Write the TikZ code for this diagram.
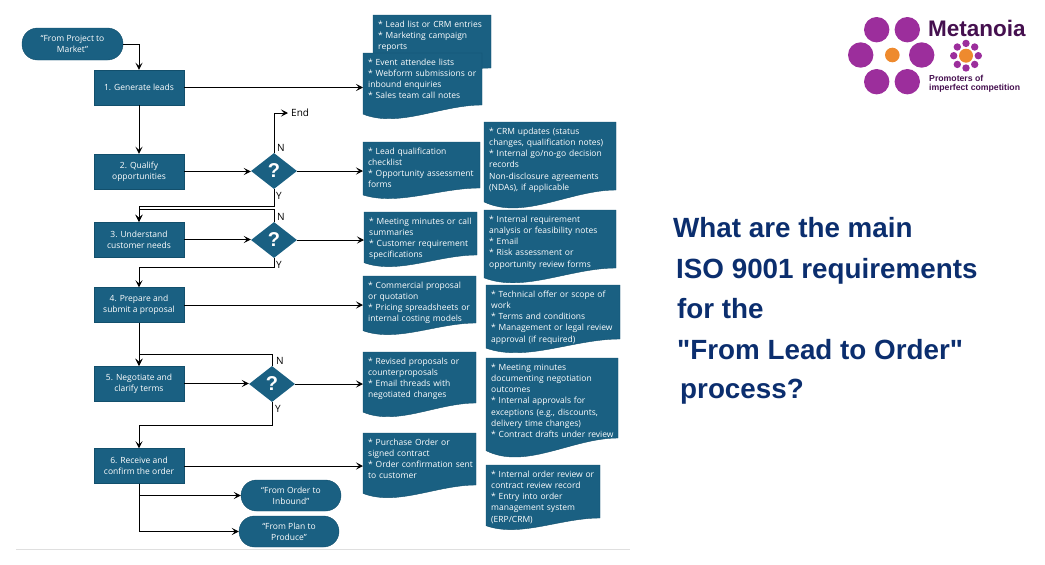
\documentclass[tikz,border=0pt]{standalone}
\usepackage{fontspec}
\setmainfont{Open Sans}
\newfontfamily\titlefont{Liberation Sans}
\usetikzlibrary{arrows.meta,calc,shapes.geometric}
\definecolor{flowblue}{HTML}{1A6082}
\definecolor{flowedge}{HTML}{124F6C}
\definecolor{navytext}{HTML}{0B2E6E}
\definecolor{logopurple}{HTML}{9C2E9C}
\definecolor{logoorange}{HTML}{EE8A2E}
\definecolor{logotext}{HTML}{45104F}
\newcommand{\boxfont}{\fontsize{8.5}{11.2}\selectfont}
\newcommand{\docnode}[7]{
  \filldraw[fill=flowblue,draw=flowedge,line width=.4] (#2,#3) -- (#2+#4,#3) -- (#2+#4,#3+#5) .. controls (#2+.65*#4,#3+#5) and (#2+.3*#4,#3+#5+1.8*#6) .. (#2,#3+#5+.7*#6) -- cycle;
  \node[docbox={#4}{#5}] (#1) at (#2,#3) {#7};
}
\begin{document}
\begin{tikzpicture}
  [x=1pt,y=-1pt,
  stepbox/.style={rectangle,fill=flowblue,draw=flowedge,line width=.4,minimum width=90,minimum height=35,align=center,text=white,font=\boxfont,inner sep=1},
  oval/.style={rectangle,rounded corners=15.5,fill=flowblue,draw=flowedge,line width=.4,minimum width=100,minimum height=31,align=center,text=white,font=\boxfont,inner sep=1},
  query/.style={diamond,shape aspect=1.27,fill=flowblue,minimum width=46,minimum height=36,inner sep=0,text=white,font=\titlefont\bfseries\fontsize{20}{20}\selectfont},
  docbox/.style 2 args={anchor=north west,inner xsep=5,inner ysep=3,align=left,text width=#1pt,text height=9pt,text depth=#2pt-15pt,text=white,font=\boxfont},
  flag/.style={inner sep=0,font=\fontsize{10}{12}\selectfont},
  arr/.style={line width=1,-{Stealth[length=7pt,width=7pt,inset=3pt]}},
  title/.style={anchor=base west,inner sep=0,text=navytext,font=\titlefont\bfseries\fontsize{27.8}{30}\selectfont}]
  \useasboundingbox (0,0) rectangle (1045,565);
  \node[oval,minimum width=101,minimum height=32] (start) at (72.5,44) {“From Project to\\Market”};
  \node[stepbox] (n1) at (139,87.5) {1. Generate leads};
  \node[stepbox] (n2) at (139,171.5) {2. Qualify\\opportunities};
  \node[stepbox] (n3) at (139,239.5) {3. Understand\\customer needs};
  \node[stepbox] (n4) at (139,305) {4. Prepare and\\submit a proposal};
  \node[stepbox] (n5) at (139,383.5) {5. Negotiate and\\clarify terms};
  \node[stepbox] (n6) at (139,466) {6. Receive and\\confirm the order};
  \node[query] (d1) at (274,171) {?};
  \node[query] (d2) at (274,240) {?};
  \node[query] (d3) at (272,384) {?};
  \node[oval] (o1) at (291,495.5) {“From Order to\\Inbound”};
  \node[oval] (o2) at (289,531.5) {“From Plan to\\Produce”};
  \node[flag,anchor=west] (end) at (291,113) {End};
  \node[flag] (nA) at (281,148) {N};
  \node[flag] (yA) at (279,196) {Y};
  \node[flag] (nB) at (281,217) {N};
  \node[flag] (yB) at (279,265) {Y};
  \node[flag] (nC) at (280,361) {N};
  \node[flag] (yC) at (278,409) {Y};
  \docnode{l0}{373}{15}{118}{53}{12}{{*} Lead list or CRM entries\\{*} Marketing campaign\\reports}
  \docnode{l1}{363}{53}{119}{52}{13}{{*} Event attendee lists\\{*} Webform submissions or\\inbound enquiries\\{*} Sales team call notes}
  \docnode{l2}{363}{142}{117}{46}{10}{{*} Lead qualification\\checklist\\{*} Opportunity assessment\\forms}
  \docnode{l3}{364}{212}{113}{43}{11}{{*} Meeting minutes or call\\summaries\\{*} Customer requirement\\specifications}
  \docnode{l4}{363}{276}{113}{47}{11}{{*} Commercial proposal\\or quotation\\{*} Pricing spreadsheets or\\internal costing models}
  \docnode{l5}{363}{352}{113}{51}{13}{{*} Revised proposals or\\counterproposals\\{*} Email threads with\\negotiated changes}
  \docnode{l6}{363}{433}{113}{52}{12}{{*} Purchase Order or\\signed contract\\{*} Order confirmation sent\\to customer}
  \docnode{r2}{484}{122}{132}{68}{17}{{*} CRM updates (status\\changes, qualification notes)\\{*} Internal go/no-go decision\\records\\Non-disclosure agreements\\(NDAs), if applicable}
  \docnode{r3}{484}{210}{132}{58}{14}{{*} Internal requirement\\analysis or feasibility notes\\{*} Email\\{*} Risk assessment or\\opportunity review forms}
  \docnode{r4}{486}{285}{134}{54}{13}{{*} Technical offer or scope of\\work\\{*} Terms and conditions\\{*} Management or legal review\\approval (if required)}
  \docnode{r5}{486}{358}{132}{80}{18}{{*} Meeting minutes\\documenting negotiation\\outcomes\\{*} Internal approvals for\\exceptions (e.g., discounts,\\delivery time changes)\\{*} Contract drafts under review}
  \docnode{r6}{486}{465}{114}{53}{11}{{*} Internal order review or\\contract review record\\{*} Entry into order\\management system\\(ERP/CRM)}
  \foreach \from/\to in {n1/l1,n2/d1,d1/l2,n3/d2,d2/l3,n4/l4,n5/d3,d3/l5,n6/l6}
    \draw[arr] (\from.east) -- (\from.east -| \to.west);
  \foreach \from/\to in {n1/n2,n4/n5}
    \draw[arr] (\from.south) -- (\to.north);
  \draw[arr] (start.east) -| (n1.north);
  \draw[arr,shorten >=3pt] (d1.north) |- (end.west);
  \draw[arr] (d1.south) -- ++(0,17) -| (n3.north);
  \draw[arr] (d2.north) -- ++(0,-12) -| (n3.north);
  \draw[arr] (d2.south) -- ++(0,9) -| (n4.north);
  \draw[arr] (d3.north) -- ++(0,-11) -| (n5.north);
  \draw[arr] (d3.south) -- ++(0,23.5) -| (n6.north);
  \draw[arr] (n6.south) |- (o1.west);
  \draw[arr] (n6.south) |- (o2.west);
  \draw[gray!25,line width=1] (16,549.5) -- (630,549.5);
  \node[title] (t1) at (673,237) {What are the main};
  \node[title] (t2) at (676,278) {ISO 9001 requirements};
  \node[title] (t3) at (677,318) {for the};
  \node[title] (t4) at (677,359) {"From Lead to Order"};
  \node[title] (t5) at (680,398) {process?};
  \foreach \x/\y in {876.7/29.7,907.3/29.7,860.7/55,921.7/55,876.7/81.7,907.3/81.7}
    \fill[logopurple] (\x,\y) circle (12.7);
  \fill[logoorange] (892.3,55) circle (7.3);
  \foreach \a in {0,45,...,315}
    \fill[logopurple] ($(966,55.7)+(\a:12.3)$) circle (3.7);
  \fill[logoorange] (966,55.7) circle (7);
  \node[anchor=west,inner sep=0,text=logotext,font=\titlefont\bfseries\fontsize{22.5}{24}\selectfont] (brand) at (928,28) {Metanoia};
  \node[anchor=north west,inner sep=0,align=left,text=logotext,font=\titlefont\bfseries\fontsize{8.7}{9}\selectfont] (motto) at (929,75) {Promoters of\\imperfect competition};
\end{tikzpicture}
\end{document}
